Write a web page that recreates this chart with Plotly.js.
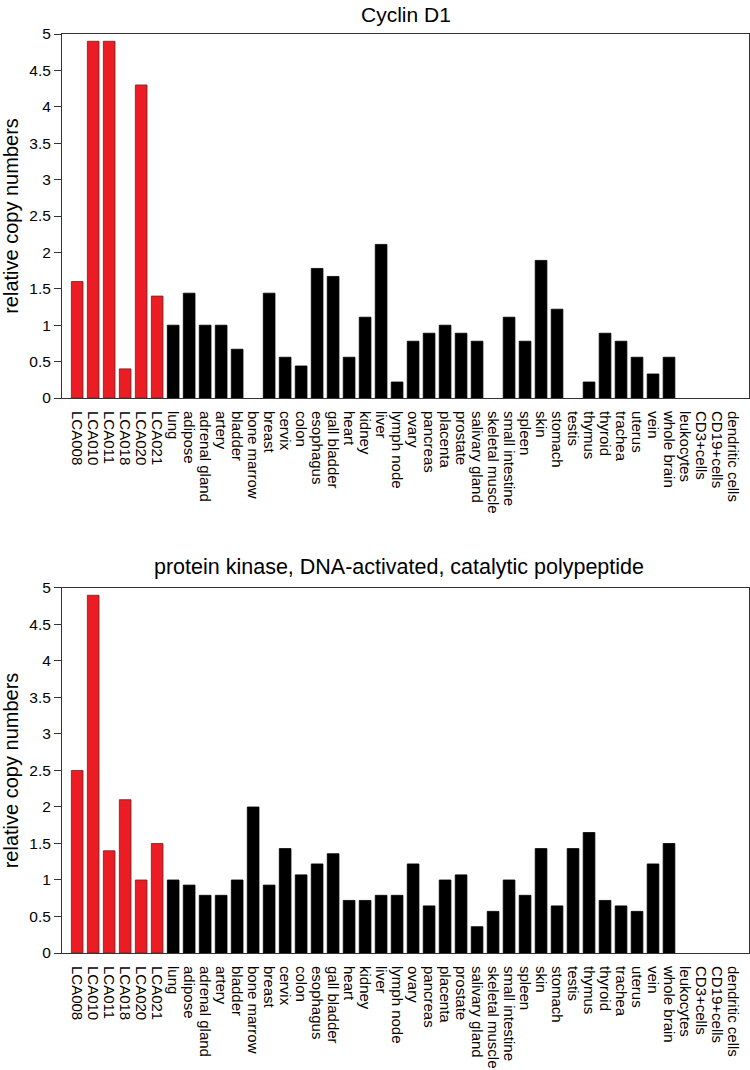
<!DOCTYPE html>
<html>
<head>
<meta charset="utf-8">
<script src="https://cdn.plot.ly/plotly-3.0.1.min.js"></script>
<style>
  body { margin: 0; background: #fff; }
  #chart { width: 750px; height: 1070px; }
</style>
</head>
<body>
<div id="chart"></div>
<script>
// sample / tissue names (first 6 are the tumour samples, drawn in red)
var samples = ['LCA008', 'LCA010', 'LCA011', 'LCA018', 'LCA020', 'LCA021',
  'lung', 'adipose', 'adrenal gland', 'artery', 'bladder', 'bone marrow', 'breast',
  'cervix', 'colon', 'esophagus', 'gall bladder', 'heart', 'kidney', 'liver',
  'lymph node', 'ovary', 'pancreas', 'placenta', 'prostate', 'salivary gland',
  'skeletal muscle', 'small intestine', 'spleen', 'skin', 'stomach', 'testis',
  'thymus', 'thyroid', 'trachea', 'uterus', 'vein', 'whole brain', 'leukocytes',
  'CD3+cells', 'CD19+cells', 'dendritic cells'];
var tumourCount = 6;

var cyclinD1 = [1.6, 4.9, 4.9, 0.4, 4.3, 1.4,
  1.0, 1.44, 1.0, 1.0, 0.67, 0, 1.44,
  0.56, 0.44, 1.78, 1.67, 0.56, 1.11, 2.11,
  0.22, 0.78, 0.89, 1.0, 0.89, 0.78,
  0, 1.11, 0.78, 1.89, 1.22, 0,
  0.22, 0.89, 0.78, 0.56, 0.33, 0.56, 0,
  0, 0, 0];

var prkdc = [2.5, 4.9, 1.4, 2.1, 1.0, 1.5,
  1.0, 0.93, 0.79, 0.79, 1.0, 2.0, 0.93,
  1.43, 1.07, 1.22, 1.36, 0.72, 0.72, 0.79,
  0.79, 1.22, 0.645, 1.0, 1.07, 0.36,
  0.57, 1.0, 0.79, 1.43, 0.645, 1.43,
  1.65, 0.72, 0.645, 0.57, 1.22, 1.5, 0,
  0, 0, 0];

var panelTitles = ['Cyclin D1', 'protein kinase, DNA-activated, catalytic polypeptide'];
var yTicks = [0, 0.5, 1, 1.5, 2, 2.5, 3, 3.5, 4, 4.5, 5];

var xIdx = samples.map(function (s, i) { return i; });
var fillColors = samples.map(function (s, i) { return i < tumourCount ? '#ec1c24' : '#000000'; });
var edgeColors = samples.map(function (s, i) { return i < tumourCount ? '#5a2a2a' : '#000000'; });

function barTrace(vals, xa, ya) {
  return {
    type: 'bar',
    x: xIdx,
    y: vals,
    xaxis: xa,
    yaxis: ya,
    marker: {
      color: fillColors,
      // no outline on empty bars, otherwise a stub shows on the axis
      line: { color: edgeColors, width: vals.map(function (v) { return v > 0 ? 0.8 : 0; }) }
    },
    hoverinfo: 'x+y'
  };
}

var font = { family: 'Liberation Sans, Arial, Helvetica, sans-serif', color: '#000' };

function xAxis(anchor) {
  return {
    anchor: anchor,
    domain: [0, 1],
    range: [-0.95, 42],
    tickmode: 'array',
    tickvals: xIdx,
    ticktext: samples,
    tickangle: 90,
    ticks: '',
    ticklabelstandoff: 9,
    tickfont: { family: font.family, size: 15, color: '#000' },
    showline: true,
    mirror: true,
    linecolor: '#333',
    linewidth: 1,
    showgrid: false,
    zeroline: false,
    fixedrange: true
  };
}

function yAxis(anchor, domain) {
  return {
    anchor: anchor,
    domain: domain,
    range: [0, 5],
    tickmode: 'array',
    tickvals: yTicks,
    ticks: 'outside',
    ticklen: 7,
    tickcolor: '#333',
    tickfont: { family: font.family, size: 15.5, color: '#000' },
    title: { text: 'relative copy numbers', font: { family: font.family, size: 20, color: '#000' }, standoff: 11 },
    showline: true,
    mirror: true,
    linecolor: '#333',
    linewidth: 1,
    showgrid: false,
    zeroline: false,
    fixedrange: true
  };
}

// inward ticks on the right-hand frame
function rightTicks(overlay, anchor) {
  return {
    overlaying: overlay,
    anchor: anchor,
    side: 'right',
    range: [0, 5],
    tickmode: 'array',
    tickvals: yTicks,
    ticks: 'inside',
    ticklen: 7,
    tickcolor: '#333',
    showticklabels: false,
    showgrid: false,
    zeroline: false,
    fixedrange: true
  };
}

var topDomain = [0.6039, 1];
var botDomain = [0, 0.3972];

var data = [
  barTrace(cyclinD1, 'x', 'y'),
  barTrace(prkdc, 'x2', 'y2')
];

var layout = {
  width: 750,
  height: 1070,
  margin: { l: 62, r: 1, t: 34, b: 117 },
  paper_bgcolor: '#fff',
  plot_bgcolor: '#fff',
  font: font,
  showlegend: false,
  bargap: 0.27,
  xaxis: xAxis('y'),
  yaxis: yAxis('x', topDomain),
  xaxis2: xAxis('y2'),
  yaxis2: yAxis('x2', botDomain),
  yaxis3: rightTicks('y', 'x'),
  yaxis4: rightTicks('y2', 'x2'),
  annotations: [
    {
      text: panelTitles[0], xref: 'paper', yref: 'paper', x: 0.5, y: 1.021,
      xanchor: 'center', yanchor: 'middle', showarrow: false, borderpad: 0,
      font: { family: font.family, size: 21, color: '#000' }
    },
    {
      text: panelTitles[1], xref: 'paper', yref: 'paper', x: 0.49, y: 0.42,
      xanchor: 'center', yanchor: 'middle', showarrow: false, borderpad: 0,
      font: { family: font.family, size: 21.5, color: '#000' }
    }
  ]
};

Plotly.newPlot('chart', data, layout, { displayModeBar: false, staticPlot: true });
</script>
</body>
</html>
